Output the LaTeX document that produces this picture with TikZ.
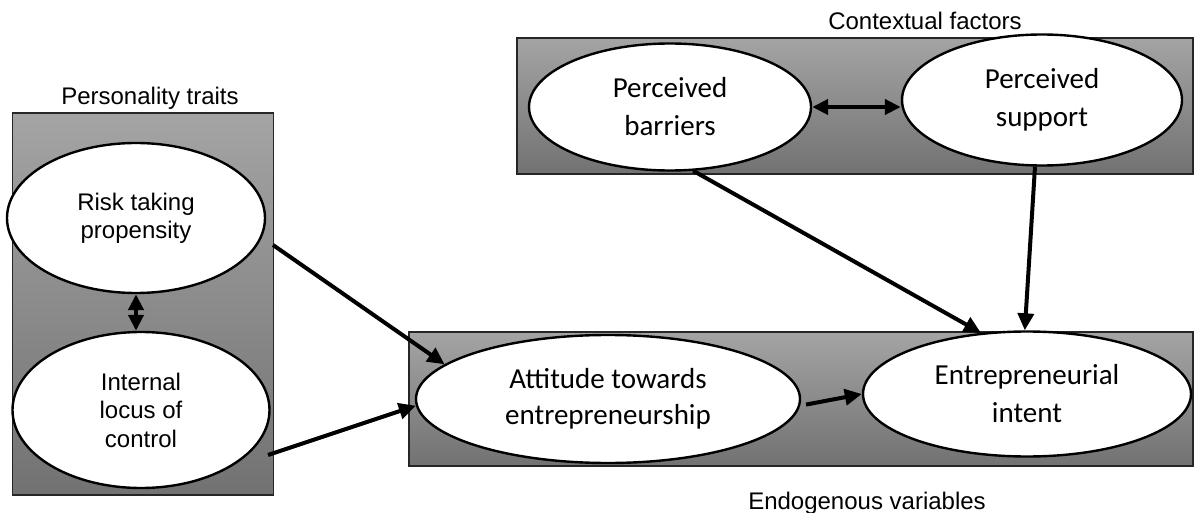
\documentclass[tikz,border=0pt]{standalone}
\usepackage{fontspec}
\setmainfont{Liberation Sans}
\newfontfamily\calib{Carlito}
\usetikzlibrary{shapes.geometric,arrows.meta}
\definecolor{gtop}{RGB}{164,164,164}
\definecolor{gbot}{RGB}{114,114,114}
\begin{document}
\begin{tikzpicture}[x=1pt,y=-1pt,
  grp/.style={rectangle,draw=black!85,line width=1.3pt,top color=gtop,bottom color=gbot,inner sep=0pt},
  ell/.style={ellipse,draw=black,line width=2.4pt,fill=white,inner sep=0pt,align=center},
  arialtxt/.style={font=\fontsize{24}{28}\selectfont},
  calibtxt/.style={font=\calib\fontsize{29}{37}\selectfont},
  lab/.style={font=\fontsize{24}{28}\selectfont,anchor=base,inner sep=0pt},
  arr/.style={line width=4pt,-{Triangle[length=17pt,width=16pt]}},
  dbl/.style={line width=4pt,{Triangle[length=16pt,width=15pt]}-{Triangle[length=16pt,width=15pt]}}]
\useasboundingbox (0,0) rectangle (1194,513);
% group boxes
\node[grp,minimum width=261pt,minimum height=382pt] (pbox) at (143,304) {};
\node[grp,minimum width=676pt,minimum height=136pt] (cbox) at (855,106) {};
\node[grp,minimum width=784pt,minimum height=134pt] (ebox) at (801,399) {};
% group labels
\node[lab] (pt) at (150,105) {Personality traits};
\node[lab] (cf) at (925,30) {Contextual factors};
\node[lab] (ev) at (867,509) {Endogenous variables};
% ellipses
\node[ell,arialtxt,minimum width=258pt,minimum height=150pt] (risk) at (136,218) {Risk taking\\propensity};
\node[ell,font=\fontsize{24}{28.5}\selectfont,minimum width=257pt,minimum height=156pt] (int) at (141,410) {Internal\\locus of\\control};
\node[ell,calibtxt,font=\calib\fontsize{29}{38}\selectfont,minimum width=282pt,minimum height=127pt] (bar) at (670,107) {Perceived\\barriers};
\node[ell,calibtxt,font=\calib\fontsize{29}{38}\selectfont,minimum width=280pt,minimum height=131pt] (sup) at (1042,100) {Perceived\\support};
\node[ell,calibtxt,font=\calib\fontsize{29}{36}\selectfont,minimum width=384pt,minimum height=128pt] (att) at (608,399) {Attitude towards\\entrepreneurship};
\node[ell,calibtxt,font=\calib\fontsize{29}{38}\selectfont,minimum width=328pt,minimum height=125pt] (ei) at (1027,394) {Entrepreneurial\\intent};
% free ends
\coordinate (rA) at (273,245);
\coordinate (rB) at (268,455);
% connectors
\draw[dbl] (risk.south) -- (risk.south |- int.north);
\draw[dbl] (bar.east) -- (bar.east -| sup.west);
\draw[arr] (rA) -- (att.168.7);
\draw[arr] (rB) -- (att.182);
\draw[arr,shorten <=6pt] (att.-2.4) -- (ei.west);
\draw[arr] (bar.-70) -- (ei.127);
\draw[arr] (sup.-96) -- (ei.92);
\end{tikzpicture}
\end{document}
